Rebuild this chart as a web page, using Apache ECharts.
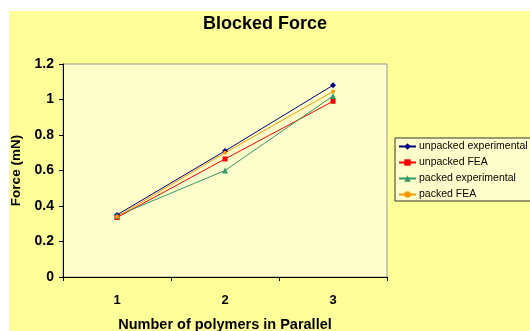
<!DOCTYPE html>
<html><head><meta charset="utf-8">
<script src="https://cdn.jsdelivr.net/npm/echarts@6/dist/echarts.min.js"></script>
<style>html,body{margin:0;padding:0;background:#fff}#c{width:530px;height:331px}</style>
</head><body><div id="c"></div>
<script>
const categories = ['1', '2', '3'];
const unpackedExperimental = [0.35, 0.71, 1.08];
const unpackedFEA = [0.335, 0.665, 0.99];
const packedExperimental = [0.345, 0.60, 1.02];
const packedFEA = [0.34, 0.70, 1.045];
const seriesNames = ['unpacked experimental', 'unpacked FEA', 'packed experimental', 'packed FEA'];
const yTicks = [0, 0.2, 0.4, 0.6, 0.8, 1, 1.2];

const chart = echarts.init(document.getElementById('c'), null, {renderer: 'canvas'});
const font = 'Arial, "Liberation Sans", sans-serif';
function s(name, data, color, symbol, size) {
  return {name, type: 'line', data, color, symbol, symbolSize: size, showSymbol: true,
    lineStyle: {width: 1, color}, itemStyle: {color}, animation: false};
}
chart.setOption({
  backgroundColor: '#ffffff',
  animation: false,
  graphic: [{type: 'rect', left: 9, top: 11, z: -10, shape: {width: 521, height: 320}, style: {fill: '#FFFF99'}}],
  title: {text: 'Blocked Force', left: 260, top: 10, textAlign: 'center',
    textStyle: {fontFamily: font, fontSize: 18, fontWeight: 'bold', color: '#000'}},
  legend: {data: seriesNames, orient: 'vertical', left: 395, top: 138, padding: [3, 4, 1, 3],
    itemWidth: 17, itemHeight: 8, itemGap: 5, borderColor: '#333', borderWidth: 1,
    backgroundColor: '#FFFFCC', textStyle: {fontFamily: font, fontSize: 10.5, color: '#000', padding: [0,0,0,-2]}},
  grid: {left: 63, right: 143, top: 64, bottom: 54, containLabel: false, outerBoundsMode: 'none',
    show: true, backgroundColor: '#FFFFCC', borderColor: '#999', borderWidth: 1},
  xAxis: {type: 'category', data: categories, boundaryGap: true,
    name: 'Number of polymers in Parallel', nameLocation: 'middle', nameGap: 40,
    nameTextStyle: {fontFamily: font, fontSize: 14.5, fontWeight: 'bold', color: '#000'},
    axisLine: {lineStyle: {color: '#000', width: 1}},
    axisTick: {show: true, length: 4, alignWithLabel: false, lineStyle: {color: '#000'}},
    axisLabel: {fontFamily: font, fontSize: 13, fontWeight: 'bold', color: '#000', margin: 17},
    splitLine: {show: false}},
  yAxis: {type: 'value', min: 0, max: 1.2, interval: 0.2,
    name: 'Force (mN)', nameLocation: 'middle', nameGap: 40,
    nameTextStyle: {fontFamily: font, fontSize: 13.5, fontWeight: 'bold', color: '#000'},
    axisLine: {show: true, lineStyle: {color: '#000', width: 1}},
    axisTick: {show: true, length: 4, lineStyle: {color: '#000'}},
    axisLabel: {fontFamily: font, fontSize: 14, fontWeight: 'bold', color: '#000', margin: 9,
      formatter: v => { const t = yTicks.find(x => Math.abs(x - v) < 1e-9); return String(t !== undefined ? t : v); }},
    splitLine: {show: false}},
  series: [
    s(seriesNames[0], unpackedExperimental, '#000080', 'diamond', 6),
    s(seriesNames[1], unpackedFEA, '#FF0000', 'rect', 5),
    s(seriesNames[2], packedExperimental, '#339966', 'triangle', 6),
    s(seriesNames[3], packedFEA, '#FF9900', 'circle', 4)
  ]
});
</script></body></html>
